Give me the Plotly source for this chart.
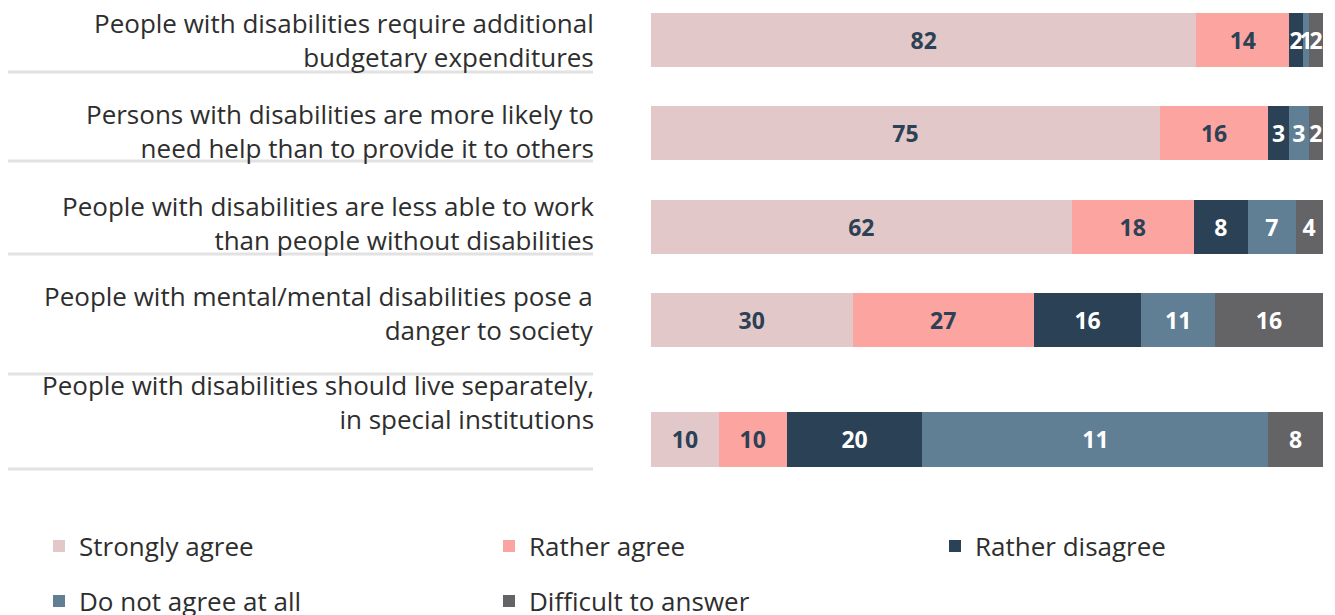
import plotly.graph_objects as go

# ---------------- data ----------------
statements = [
    "People with disabilities require additional<br>budgetary expenditures",
    "Persons with disabilities are more likely to<br>need help than to provide it to others",
    "People with disabilities are less able to work<br>than people without disabilities",
    "People with mental/mental disabilities pose a<br>danger to society",
    "People with disabilities should live separately,<br>in special institutions",
]
series_names = ["Strongly agree", "Rather agree", "Rather disagree",
                "Do not agree at all", "Difficult to answer"]
strongly_agree = [82, 75, 62, 30, 10]
rather_agree = [14, 16, 18, 27, 10]
rather_disagree = [2, 3, 8, 16, 20]
not_agree_at_all = [1, 3, 7, 11, 51]
difficult = [2, 2, 4, 16, 8]
# labels as printed in the chart (last row's label differs from bar width)
not_agree_labels = ["1", "3", "7", "11", "11"]

series_values = [strongly_agree, rather_agree, rather_disagree, not_agree_at_all, difficult]
series_labels = [[str(v) for v in strongly_agree], [str(v) for v in rather_agree],
                 [str(v) for v in rather_disagree], not_agree_labels,
                 [str(v) for v in difficult]]

# ---------------- layout / style ----------------
colors = ["#E3C8C9", "#FBA4A0", "#2B4155", "#617F94", "#646466"]
text_colors = ["#2B4155", "#2B4155", "#FFFFFF", "#FFFFFF", "#FFFFFF"]
row_pos = [0, 1, 2, 3, 4.28]
label_pos = [0, 0.98, 1.96, 2.93, 3.88]
sep_pos = [0.343, 1.296, 2.293, 3.579, 4.597]
# legend item placement (container px): (left, centre-y)
legend_xy = [(39, 546), (489, 546), (935, 546), (39, 601), (489, 601)]
legend_ids = ["legend", "legend2", "legend3", "legend4", "legend5"]

W, H = 1335, 615

fig = go.Figure()
for k in range(5):
    fig.add_trace(go.Bar(
        y=row_pos, x=series_values[k], orientation="h", name=series_names[k],
        text=series_labels[k], textposition="inside", insidetextanchor="middle",
        textangle=0, constraintext="none", cliponaxis=False,
        textfont=dict(family="Open Sans", size=23, color=text_colors[k], weight=700),
        marker=dict(color=colors[k], line=dict(width=0)), width=0.58,
        hoverinfo="skip", legend=legend_ids[k],
    ))

label_x = -0.0818
for i, s in enumerate(statements):
    fig.add_annotation(x=label_x, y=label_pos[i], xref="paper", yref="y", text=s,
                       showarrow=False, xanchor="right", yanchor="middle", align="right",
                       font=dict(family="Open Sans", size=26, color="#2E2E2E"))
for yp in sep_pos:
    fig.add_shape(type="line", xref="paper", yref="y", x0=-0.957, x1=-0.0863,
                  y0=yp, y1=yp, line=dict(color="#E2E2E2", width=3))

legends = {}
for lid, (lx, ly) in zip(legend_ids, legend_xy):
    legends[lid] = dict(orientation="h", xref="container", yref="container",
                        x=lx / W, y=1 - ly / H, xanchor="left", yanchor="middle",
                        itemclick=False, itemdoubleclick=False,
                        font=dict(family="Open Sans", size=26, color="#2E2E2E"),
                        bgcolor="rgba(0,0,0,0)", borderwidth=0)

fig.update_layout(
    width=W, height=H,
    margin=dict(l=651, r=12, t=0, b=135),
    barmode="stack", barnorm="percent",
    plot_bgcolor="white", paper_bgcolor="white",
    xaxis=dict(range=[0, 100.05], visible=False, fixedrange=True),
    yaxis=dict(range=[4.714, -0.4286], visible=False, fixedrange=True),
    showlegend=True,
    font=dict(family="Open Sans"),
    **legends,
)

fig.write_html("out.html", config={"displayModeBar": False},
               post_script="document.body.style.margin='0';")
